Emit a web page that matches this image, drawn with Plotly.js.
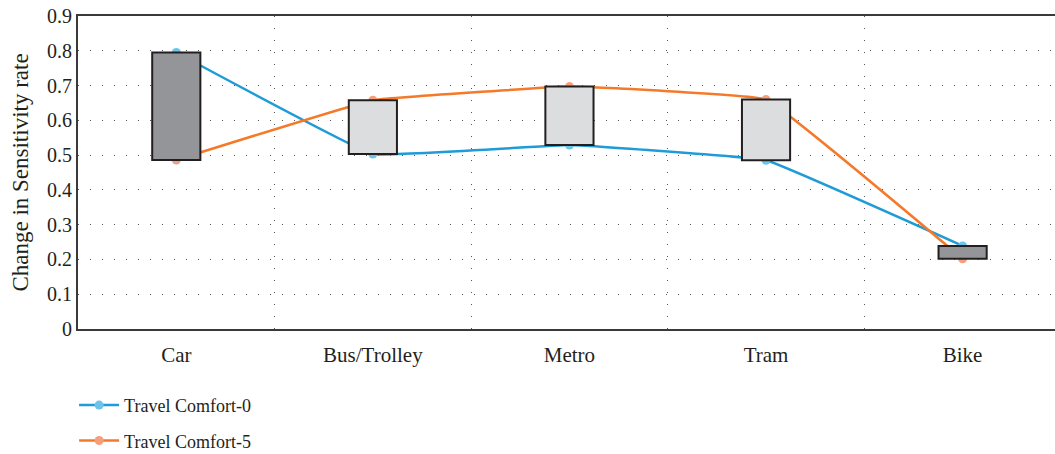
<!DOCTYPE html>
<html>
<head>
<meta charset="utf-8">
<script src="https://cdn.plot.ly/plotly-3.0.1.min.js"></script>
<style>html,body{margin:0;padding:0;background:#fff;}#chart{width:1055px;height:454px;}</style>
</head>
<body>
<div id="chart"></div>
<script>
const categories = ["Car", "Bus/Trolley", "Metro", "Tram", "Bike"];
const comfort0 = [0.795, 0.503, 0.529, 0.485, 0.239];
const comfort5 = [0.486, 0.658, 0.697, 0.66, 0.202];
const yTickVals = [0, 0.1, 0.2, 0.3, 0.4, 0.5, 0.6, 0.7, 0.8, 0.9];
const yTickText = ["0", "0.1", "0.2", "0.3", "0.4", "0.5", "0.6", "0.7", "0.8", "0.9"];

const FONT = "Liberation Serif, Times New Roman, serif";
const TXT = "#231f20";

const bases = comfort0.map((v, i) => Math.min(v, comfort5[i]));
const heights = comfort0.map((v, i) => Math.abs(v - comfort5[i]));
const boxColors = comfort0.map((v, i) => v > comfort5[i] ? "#939598" : "#dcddde");

const traces = [
  {
    x: categories, y: comfort0, name: "Travel Comfort-0", type: "scatter", mode: "lines+markers",
    legendgroup: "g0",
    line: {color: "#1f9bd7", width: 2.5, shape: "spline", smoothing: 0.2},
    marker: {color: "#6cc4ea", size: 9}
  },
  {
    x: categories, y: comfort5, name: "Travel Comfort-5", type: "scatter", mode: "lines+markers",
    legendgroup: "g5",
    line: {color: "#f47a2a", width: 2.5, shape: "spline", smoothing: 0.2},
    marker: {color: "#f5a07a", size: 9}
  },
  {
    x: categories, y: heights, base: bases, type: "bar", xaxis: "x2", yaxis: "y2",
    width: 0.245, showlegend: false, hoverinfo: "skip",
    marker: {color: boxColors, line: {color: "#231f20", width: 2}}
  }
];

const range = [-0.5, 4.47];
const layout = {
  width: 1055, height: 454,
  margin: {l: 78, r: 0, t: 16, b: 125, autoexpand: false},
  paper_bgcolor: "#fff", plot_bgcolor: "#fff",
  font: {family: FONT, color: TXT, size: 20},
  showlegend: true,
  legend: {
    orientation: "v", x: -0.004, xanchor: "left", y: -0.185, yanchor: "top",
    traceorder: "grouped",
    font: {family: FONT, size: 18, color: TXT}, tracegroupgap: 9, itemwidth: 40
  },
  xaxis: {
    type: "category", range: range, tickson: "boundaries", ticks: "", ticklen: 0,
    showgrid: true, gridcolor: "#555", griddash: "1px,11px", gridwidth: 1.2,
    showline: true, linecolor: "#3a3a3a", linewidth: 2, mirror: true,
    tickfont: {family: FONT, size: 21, color: TXT}, ticklabelstandoff: 6,
    zeroline: false, fixedrange: true
  },
  yaxis: {
    range: [0, 0.9], tickvals: yTickVals, ticktext: yTickText,
    showgrid: true, gridcolor: "#555", griddash: "1px,11px", gridwidth: 1.2,
    showline: true, linecolor: "#3a3a3a", linewidth: 2, ticks: "", zeroline: false,
    tickfont: {family: FONT, size: 20, color: TXT},
    title: {text: "Change in Sensitivity rate", font: {family: FONT, size: 23, color: TXT}, standoff: 12}
  },
  xaxis2: {type: "category", overlaying: "x", range: range, visible: false, fixedrange: true},
  yaxis2: {overlaying: "y", range: [0, 0.9], visible: false},
  barmode: "overlay"
};

Plotly.newPlot("chart", traces, layout, {displayModeBar: false, staticPlot: true});
</script>
</body>
</html>
